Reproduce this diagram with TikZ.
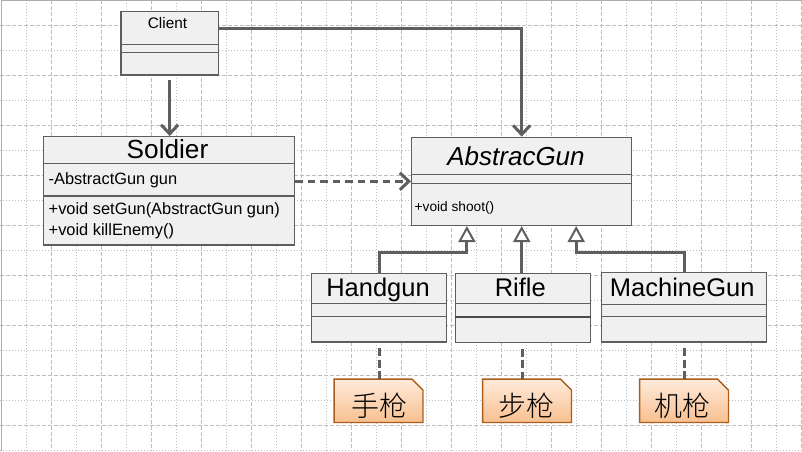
\documentclass[tikz,border=0pt]{standalone}
\usepackage{fontspec}
\setmainfont{Liberation Sans}
\newfontfamily\cjk{Noto Sans CJK SC}[UprightFont=* Light]
\usetikzlibrary{arrows.meta,calc}
\pgfdeclarelayer{gridlayer}
\pgfdeclarelayer{notelayer}
\pgfsetlayers{gridlayer,notelayer,main}
\definecolor{boxfill}{HTML}{F0F0F0}
\definecolor{boxdraw}{HTML}{5E5E5E}
\definecolor{conncol}{HTML}{5F5F5F}
\definecolor{gridcol}{HTML}{BDBDBD}
\definecolor{gridborder}{HTML}{ACACAC}
\definecolor{notetop}{HTML}{FEEBDB}
\definecolor{notebot}{HTML}{F8C08F}
\definecolor{notedraw}{HTML}{A95E1E}
\tikzset{
  umlbox/.style={draw=boxdraw, fill=boxfill, line width=1.4pt, inner sep=0pt},
  divider/.style={draw=boxdraw, line width=1.1pt},
  heavydivider/.style={draw=boxdraw!80!black, line width=2.2pt},
  title/.style={inner sep=0pt, anchor=base, font=\fontsize{25.5}{30}\selectfont},
  member/.style={inner sep=0pt, anchor=base west, font=\fontsize{16.4}{19}\selectfont},
  conn/.style={draw=conncol, line width=3pt},
  openarrow/.style={-{Straight Barb[length=9pt,width=17pt]}},
  gen/.style={-{Triangle[length=16pt,width=17pt,fill=white,line width=2pt]}},
  depend/.style={dash pattern=on 7.5pt off 5pt},
  notelink/.style={dash pattern=on 8pt off 3.5pt},
  noteshape/.style={draw=notedraw, line width=1.4pt, top color=notetop, bottom color=notebot},
  notenode/.style={inner sep=0pt, minimum width=88.5pt, minimum height=43pt},
  notetext/.style={inner sep=0pt, font=\cjk\fontsize{28}{32}\selectfont},
  gridmajor/.style={draw=gridcol, line width=0.9pt, dash pattern=on 4pt off 2pt},
  gridminor/.style={draw=gridcol, line width=0.9pt, dash pattern=on 1pt off 2pt},
}
\begin{document}
\begin{tikzpicture}[x=1pt,y=-1pt]
\useasboundingbox (0,0) rectangle (802,451);
\begin{pgfonlayer}{gridlayer}
  \fill[white] (0,0) rectangle (802,451);
  \foreach \k in {1,...,32}{
    \ifodd\k
      \draw[gridminor] ({1.7+25*\k},0) -- ({1.7+25*\k},451);
    \else
      \draw[gridmajor] ({1.7+25*\k},0) -- ({1.7+25*\k},451);
    \fi
  }
  \foreach \k in {1,...,18}{
    \ifodd\k
      \draw[gridmajor] (0,{25*\k}) -- (802,{25*\k});
    \else
      \draw[gridminor] (0,{25*\k}) -- (802,{25*\k});
    \fi
  }
  \draw[draw=gridborder, line width=1.2pt] (1.2,451) -- (1.2,0.8) -- (802,0.8);
\end{pgfonlayer}

% class boxes
\node[umlbox, minimum width=97.3pt, minimum height=63.3pt] (client) at (169.65,43.35) {};
\draw[divider] ([yshift=-33.3pt]client.north west) -- ([yshift=-33.3pt]client.north east);
\draw[divider] ([yshift=-41.6pt]client.north west) -- ([yshift=-41.6pt]client.north east);
\node[title, font=\fontsize{15.3}{18}\selectfont] (tclient) at (167.5,28.3) {Client};

\node[umlbox, minimum width=251.4pt, minimum height=108.3pt] (soldier) at (169,190.85) {};
\draw[divider] ([yshift=-27.6pt]soldier.north west) -- ([yshift=-27.6pt]soldier.north east);
\draw[divider] ([yshift=-60pt]soldier.north west) -- ([yshift=-60pt]soldier.north east);
\node[title, font=\fontsize{26.2}{31}\selectfont] (tsoldier) at (167.5,158.3) {Soldier};
\node[member] (m1) at (48.5,184.3) {-AbstractGun gun};
\node[member] (m2) at (48.5,214.3) {+void setGun(AbstractGun gun)};
\node[member] (m3) at (48.5,235) {+void killEnemy()};

\node[umlbox, minimum width=220pt, minimum height=88pt] (agun) at (521.7,181.3) {};
\draw[divider] ([yshift=-38pt]agun.north west) -- ([yshift=-38pt]agun.north east);
\draw[divider] ([yshift=-46.7pt]agun.north west) -- ([yshift=-46.7pt]agun.north east);
\node[title, font=\fontsize{26}{31}\selectfont\itshape] (tagun) at (516,165) {AbstracGun};
\node[member, font=\fontsize{13.7}{16}\selectfont] (m4) at (414.5,211) {+void shoot()};

\node[umlbox, minimum width=134.6pt, minimum height=68.7pt] (handgun) at (379,307.65) {};
\draw[divider] ([yshift=-30.7pt]handgun.north west) -- ([yshift=-30.7pt]handgun.north east);
\draw[divider] ([yshift=-44pt]handgun.north west) -- ([yshift=-44pt]handgun.north east);
\node[title] (thandgun) at (378,296.7) {Handgun};

\node[umlbox, minimum width=135pt, minimum height=69.4pt] (rifle) at (522.8,308) {};
\draw[divider] ([yshift=-31pt]rifle.north west) -- ([yshift=-31pt]rifle.north east);
\draw[heavydivider] ([yshift=-44.7pt]rifle.north west) -- ([yshift=-44.7pt]rifle.north east);
\node[title] (trifle) at (520.3,296.7) {Rifle};

\node[umlbox, minimum width=164.6pt, minimum height=69.3pt] (mgun) at (684,307.35) {};
\draw[divider] ([yshift=-32.3pt]mgun.north west) -- ([yshift=-32.3pt]mgun.north east);
\draw[divider] ([yshift=-44.6pt]mgun.north west) -- ([yshift=-44.6pt]mgun.north east);
\node[title] (tmgun) at (682.2,296.7) {MachineGun};

% notes
\node[notenode] (n1) at (378.5,400.8) {};
\node[notenode] (n2) at (527,400.8) {};
\node[notenode] (n3) at (684,400.8) {};
\begin{pgfonlayer}{notelayer}
  \foreach \n in {n1,n2,n3}{
    \path[noteshape] (\n.north west) -- ([xshift=-11pt]\n.north east)
      -- ([yshift=-11pt]\n.north east) -- (\n.south east) -- (\n.south west) -- cycle;
  }
\end{pgfonlayer}
\node[notetext] (tn1) at (379,405.8) {手枪};
\node[notetext] (tn2) at (526,405.8) {步枪};
\node[notetext] (tn3) at (682,405.8) {机枪};

% connectors
\draw[conn, openarrow] ([yshift=-4.3pt]client.south) -- (client.south |- soldier.north);
\draw[conn, openarrow] ([yshift=15pt]client.east) -| (agun.north);
\draw[conn, depend, openarrow] (soldier.east |- agun.west) -- (agun.west);

\draw[conn, gen] (handgun.north) -- (handgun.north |- 0,252.6) -| ([xshift=-54.8pt]agun.south);
\draw[conn, gen] (agun.south |- rifle.north) -- (agun.south);
\draw[conn, gen] (mgun.north) -- (mgun.north |- 0,252.6) -| ([xshift=54.5pt]agun.south);

\draw[conn, notelink] ([yshift=-5.5pt]handgun.south) -- (handgun.south |- n1.north);
\draw[conn, notelink] ([yshift=-5.5pt]rifle.south) -- (rifle.south |- n2.north);
\draw[conn, notelink] ([yshift=-5.5pt]mgun.south) -- (mgun.south |- n3.north);
\end{tikzpicture}
\end{document}
